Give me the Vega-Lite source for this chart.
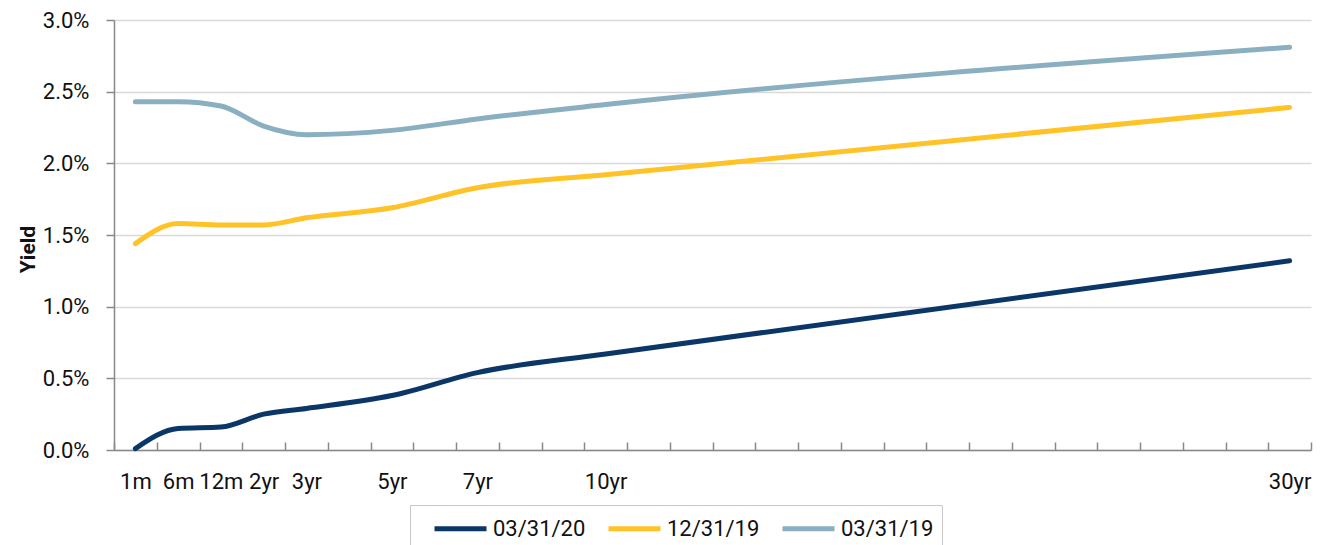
{
  "$schema": "https://vega.github.io/schema/vega-lite/v6.json",
  "width": 1197,
  "height": 430,
  "autosize": {"type": "none"},
  "padding": {"left": 114, "top": 20, "right": 19, "bottom": 95},
  "background": "white",
  "config": {
    "view": {"stroke": null},
    "font": "Roboto"
  },
  "data": {
    "values": [
      {"term": "1m", "series": "03/31/20", "yield": 0.0001},
      {"term": "6m", "series": "03/31/20", "yield": 0.0015},
      {"term": "12m", "series": "03/31/20", "yield": 0.0016},
      {"term": "2yr", "series": "03/31/20", "yield": 0.0025},
      {"term": "3yr", "series": "03/31/20", "yield": 0.0029},
      {"term": "5yr", "series": "03/31/20", "yield": 0.0038},
      {"term": "7yr", "series": "03/31/20", "yield": 0.0054},
      {"term": "10yr", "series": "03/31/20", "yield": 0.0067},
      {"term": "30yr", "series": "03/31/20", "yield": 0.0132},
      {"term": "1m", "series": "12/31/19", "yield": 0.0144},
      {"term": "6m", "series": "12/31/19", "yield": 0.0158},
      {"term": "12m", "series": "12/31/19", "yield": 0.0157},
      {"term": "2yr", "series": "12/31/19", "yield": 0.0157},
      {"term": "3yr", "series": "12/31/19", "yield": 0.0162},
      {"term": "5yr", "series": "12/31/19", "yield": 0.0169},
      {"term": "7yr", "series": "12/31/19", "yield": 0.0183},
      {"term": "10yr", "series": "12/31/19", "yield": 0.0192},
      {"term": "30yr", "series": "12/31/19", "yield": 0.0239},
      {"term": "1m", "series": "03/31/19", "yield": 0.0243},
      {"term": "6m", "series": "03/31/19", "yield": 0.0243},
      {"term": "12m", "series": "03/31/19", "yield": 0.0240},
      {"term": "2yr", "series": "03/31/19", "yield": 0.0226},
      {"term": "3yr", "series": "03/31/19", "yield": 0.0220},
      {"term": "5yr", "series": "03/31/19", "yield": 0.0223},
      {"term": "7yr", "series": "03/31/19", "yield": 0.0231},
      {"term": "10yr", "series": "03/31/19", "yield": 0.0241},
      {"term": "30yr", "series": "03/31/19", "yield": 0.0281}
    ]
  },
  "mark": {"type": "line", "strokeWidth": 5, "strokeCap": "round", "strokeJoin": "round", "interpolate": "monotone"},
  "encoding": {
    "x": {
      "field": "term",
      "type": "ordinal",
      "bandPosition": 0.5,
      "scale": {
        "type": "band",
        "paddingInner": 0,
        "paddingOuter": 0,
        "domain": ["1m","6m","12m","2yr","3yr","4yr","5yr","6yr","7yr","8yr","9yr","10yr","b12","b13","b14","b15","b16","b17","b18","b19","b20","b21","b22","b23","b24","b25","b26","30yr"]
      },
      "axis": {
        "title": null,
        "labelAngle": 0,
        "labelExpr": "indexof(['1m','6m','12m','2yr','3yr','5yr','7yr','10yr','30yr'], datum.value) >= 0 ? datum.value : ''",
        "labelFontSize": 22,
        "labelColor": "#111111",
        "labelPadding": 29,
        "tickBand": "extent",
        "tickSize": -8,
        "tickColor": "#888888",
        "tickWidth": 1.5,
        "domainColor": "#888888",
        "domainWidth": 1.5,
        "grid": false
      }
    },
    "y": {
      "field": "yield",
      "type": "quantitative",
      "scale": {"domain": [0, 0.03], "nice": false, "zero": true},
      "axis": {
        "title": "Yield",
        "titleFontSize": 21,
        "titleFontWeight": "bold",
        "titleColor": "#111111",
        "titleX": -76,
        "titleY": 229,
        "values": [0, 0.005, 0.01, 0.015, 0.02, 0.025, 0.03],
        "format": ".1%",
        "labelFontSize": 22,
        "labelColor": "#111111",
        "labelPadding": 17,
        "tickSize": 8,
        "tickColor": "#888888",
        "tickWidth": 1.5,
        "domainColor": "#888888",
        "domainWidth": 1.5,
        "grid": true,
        "gridColor": "#d9d9d9",
        "gridWidth": 1.5
      }
    },
    "color": {
      "field": "series",
      "type": "nominal",
      "sort": ["03/31/20", "12/31/19", "03/31/19"],
      "scale": {
        "domain": ["03/31/20", "12/31/19", "03/31/19"],
        "range": ["#0B3668", "#FFC328", "#8AAFC1"]
      },
      "legend": {
        "title": "\u00a0",
        "titleOrient": "left",
        "titlePadding": 14,
        "titleFontSize": 10,
        "orient": "none",
        "legendX": 296,
        "legendY": 485,
        "direction": "horizontal",
        "symbolType": "M-1,0H3",
        "symbolSize": 676,
        "symbolStrokeWidth": 5,
        "symbolFillColor": "transparent",
        "labelFontSize": 22,
        "labelColor": "#111111",
        "labelOffset": 30,
        "labelExpr": "datum.label == '03/31/19' ? datum.label + '\u00a0\u00a0\u00a0\u00a0\u00a0\u00a0' : datum.label",
        "columnPadding": 12,
        "strokeColor": "#c8c8c8",
        "padding": 8
      }
    }
  }
}
